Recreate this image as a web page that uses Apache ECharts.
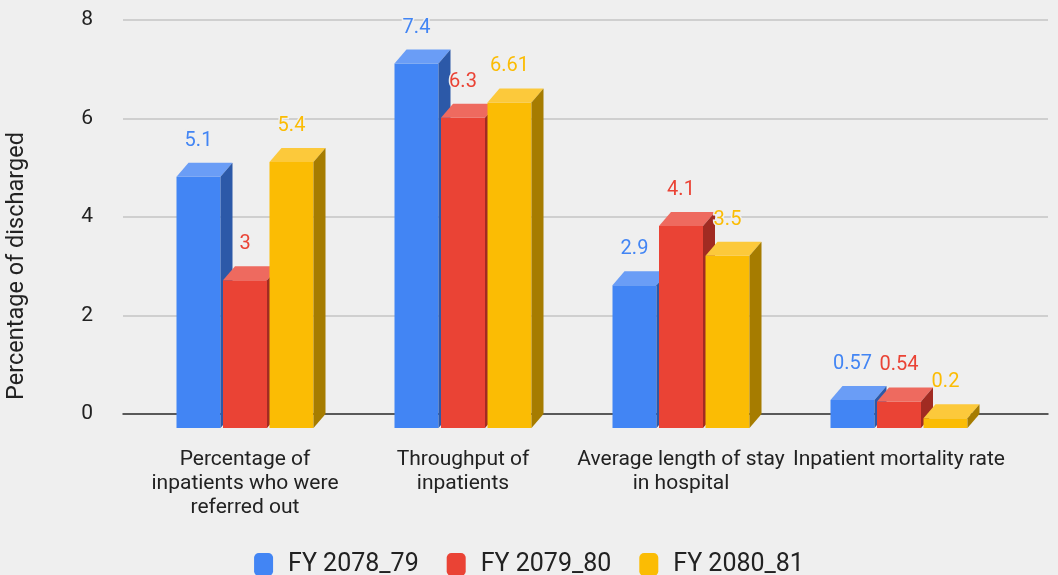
<!DOCTYPE html>
<html>

<head>
    <meta charset="utf-8">
    <title>Inpatient indicators</title>
    <style>
        html, body { margin: 0; padding: 0; background: #efefef; }
    </style>
</head>

<body>
    <div id="main" style="width: 1058px;height:575px;"></div>

    <script src="https://cdn.jsdelivr.net/npm/echarts@6/dist/echarts.min.js"></script>
    <script>
        // data
        var categories = [
            'Percentage of\ninpatients who were\nreferred out',
            'Throughput of\ninpatients',
            'Average length of stay\nin hospital',
            'Inpatient mortality rate'
        ];
        var seriesNames = ['FY 2078_79', 'FY 2079_80', 'FY 2080_81'];
        var fy2078 = [5.1, 7.4, 2.9, 0.57];
        var fy2079 = [3, 6.3, 4.1, 0.54];
        var fy2080 = [5.4, 6.61, 3.5, 0.2];
        var yTicks = [0, 2, 4, 6, 8];

        // 3d look: front, top, side colours
        var colors = [
            { front: '#4285f4', top: '#6a9df6', side: '#2c59a8' },
            { front: '#ea4335', top: '#ee6a5f', side: '#a12b22' },
            { front: '#fbbc04', top: '#fcc93b', side: '#a67c00' }
        ];
        var barW = 44, gapX = 46.5, depthX = 12, depthY = 14;
        var font = 'Roboto, "Liberation Sans", Arial, sans-serif';

        function makeRender(idx) {
            var c = colors[idx];
            var shift = (idx - 1) * gapX;
            return function (params, api) {
                var cat = api.value(0), v = api.value(1);
                var base = api.coord([cat, 0]);
                var top = api.coord([cat, v]);
                var x0 = base[0] + shift - barW / 2;
                var x1 = x0 + barW;
                var yt = top[1], yb = base[1];
                return {
                    type: 'group',
                    children: [
                        {
                            type: 'rect',
                            shape: { x: x0, y: yt, width: barW, height: yb - yt },
                            style: { fill: c.front }
                        },
                        {
                            type: 'polygon',
                            shape: { points: [[x0, yt], [x0 + depthX, yt - depthY], [x1 + depthX, yt - depthY], [x1, yt]] },
                            style: { fill: c.top }
                        },
                        {
                            type: 'polygon',
                            shape: { points: [[x1, yt], [x1 + depthX, yt - depthY], [x1 + depthX, yb - depthY], [x1, yb]] },
                            style: { fill: c.side }
                        },
                        {
                            type: 'text',
                            style: {
                                text: String(v),
                                x: x0 + barW / 2,
                                y: yt - depthY - 22,
                                align: 'center',
                                verticalAlign: 'middle',
                                font: '20px ' + font,
                                fill: c.front,
                                stroke: '#efefef',
                                lineWidth: 3
                            }
                        }
                    ]
                };
            };
        }

        var allValues = [fy2078, fy2079, fy2080];
        var series = allValues.map(function (vals, i) {
            return {
                name: seriesNames[i],
                type: 'custom',
                xAxisIndex: 1,
                yAxisIndex: 1,
                z: 3,
                itemStyle: { color: colors[i].front },
                renderItem: makeRender(i),
                encode: { x: 0, y: 1 },
                data: vals.map(function (v, k) { return [k, v]; })
            };
        });

        var myChart = echarts.init(document.getElementById('main'));

        var option = {
            backgroundColor: '#efefef',
            animation: false,
            textStyle: { fontFamily: font },
            grid: [
                // back plane with gridlines
                { left: 123, right: 10, top: 20, bottom: 161 },
                // bar fronts, pushed down by the depth
                { left: 136, right: 50, top: 20 + depthY, bottom: 161 - depthY }
            ],
            xAxis: [
                {
                    type: 'category',
                    gridIndex: 0,
                    data: categories,
                    axisLine: { show: true, lineStyle: { color: '#333', width: 1.5 } },
                    axisTick: { show: false },
                    axisLabel: { show: false }
                },
                {
                    type: 'category',
                    gridIndex: 1,
                    data: categories,
                    axisLine: { show: false },
                    axisTick: { show: false },
                    axisLabel: {
                        interval: 0,
                        margin: 20,
                        fontSize: 21,
                        lineHeight: 24,
                        color: '#222',
                        fontFamily: font
                    }
                }
            ],
            yAxis: [
                {
                    type: 'value',
                    gridIndex: 0,
                    min: yTicks[0],
                    max: yTicks[yTicks.length - 1],
                    interval: 2,
                    axisLine: { show: false },
                    axisTick: { show: false },
                    axisLabel: { margin: 30, fontSize: 21, color: '#222', fontFamily: font },
                    splitLine: { lineStyle: { color: '#c4c4c4', width: 1.5 } }
                },
                {
                    type: 'value',
                    gridIndex: 1,
                    min: yTicks[0],
                    max: yTicks[yTicks.length - 1],
                    interval: 2,
                    show: false,
                    splitLine: { show: false }
                }
            ],
            legend: {
                data: seriesNames,
                left: 'center',
                top: 547,
                icon: 'roundRect',
                itemWidth: 19,
                itemHeight: 23,
                itemGap: 28,
                textStyle: { fontSize: 25, color: '#222', fontFamily: font, padding: [0, 0, 0, 10] }
            },
            graphic: [
                {
                    type: 'text',
                    x: 17,
                    y: 266,
                    rotation: Math.PI / 2,
                    style: {
                        text: 'Percentage of discharged',
                        font: '23.5px ' + font,
                        fill: '#222',
                        align: 'center',
                        verticalAlign: 'middle'
                    }
                }
            ],
            series: series
        };
        myChart.setOption(option);
    </script>
</body>

</html>
